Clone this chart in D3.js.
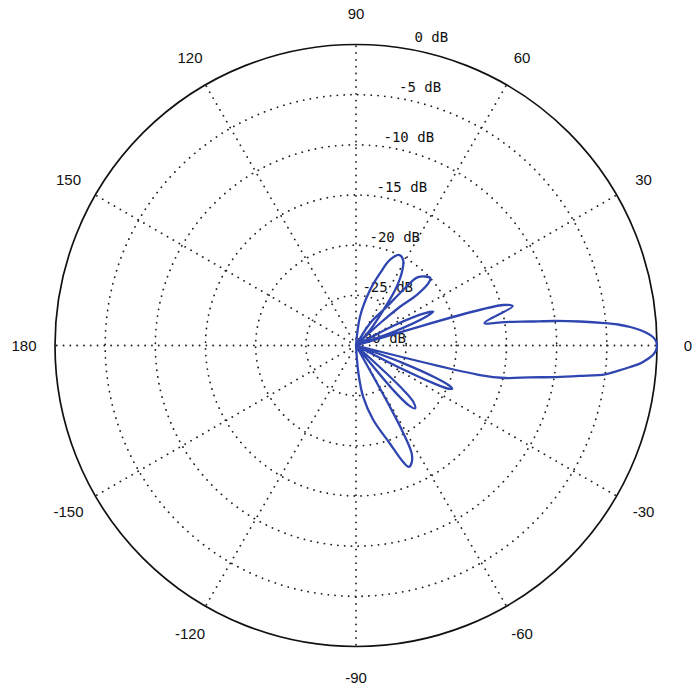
<!DOCTYPE html>
<html>
<head>
<meta charset="utf-8">
<script src="https://cdn.jsdelivr.net/npm/d3@7"></script>
<style>
  html, body { margin: 0; padding: 0; background: #ffffff; }
  svg { display: block; }
</style>
</head>
<body>
<div id="chart"></div>
<script>
// ---- data ----
const ringLevels = [-25, -20, -15, -10, -5];
const dbLevels = [0, -5, -10, -15, -20, -25, -30];
const dbLabels = ["0 dB", "-5 dB", "-10 dB", "-15 dB", "-20 dB", "-25 dB", "-30 dB"];
const spokeAngles = [0, 30, 60, 90, 120, 150, 180, 210, 240, 270, 300, 330];
const angleTicks = [0, 30, 60, 90, 120, 150, 180, -150, -120, -90, -60, -30];
const angleLabels = ["0", "30", "60", "90", "120", "150", "180", "-150", "-120", "-90", "-60", "-30"];

// pattern trace: angle (deg, CCW from 0) and gain (dB), in drawing order
const patternAngles = [
  -88, -85, -82, -77, -71, -68, -66.5, -64.5, -62.7, -61.5, -61, -60.5,
  -52, -50, -48.5, -46.8, -44.5, -43, -41,
  -28, -27, -26, -25, -24.2, -23.2, -22, -20.5, -19,
  -13.4, -13.4, -12.3, -10.4, -9.0, -7.75, -6.6, -5.56, -4.49, -3.59, -2.65, -1.83, -0.95, 0,
  0.86, 1.64, 2.35, 3.12, 3.86, 4.58, 5.16, 6.12, 7.02, 7.85, 8.96, 9.89,
  14.1, 15.4, 15.4,
  19, 20.3, 22.3, 23.6, 25, 27.7, 31,
  43, 42.8, 41.4, 39.8, 40.7, 42.2, 47.8, 49.6, 51.6, 57.8, 60,
  45, 47.9, 52.4, 54.9, 57.7, 61, 64.4, 68.3, 71.6, 75.8, 82.1, 88
];
const patternDb = [
  -30, -27.2, -24.8, -22.4, -19.7, -17.5, -16.8, -17.1, -17.9, -20.5, -23.5, -30,
  -30, -24, -22, -21.4, -22, -24, -30,
  -30, -25, -21.5, -19.8, -19.5, -19.9, -21.5, -25, -30,
  -30, -17.3, -14.8, -12.4, -9.9, -7.5, -5.0, -3.8, -2.6, -1.6, -0.9, -0.4, -0.1, 0,
  -0.1, -0.4, -0.9, -1.65, -2.6, -3.8, -5.1, -7.55, -10.0, -12.5, -15.0, -17.0,
  -13.9, -14.8, -30,
  -30, -25.5, -22.5, -21.6, -22.3, -25.6, -30,
  -30, -26.7, -24.2, -22.1, -20.5, -20, -20.8, -22.7, -25.1, -27.4, -30,
  -30, -27.9, -25.5, -23.2, -21.5, -20.3, -20, -20.8, -22.4, -24.3, -27.1, -30
];

// ---- layout ----
const W = 697, H = 700;
const cx = 356, cy = 345.5, R = 301;
const rad = d3.scaleLinear().domain([-30, 0]).range([0, R]).clamp(true);
const toRad = a => (90 - a) * Math.PI / 180; // math angle -> d3 radial angle

const svg = d3.select("#chart").append("svg")
  .attr("width", W).attr("height", H);
const g = svg.append("g").attr("transform", `translate(${cx},${cy})`);

const dotted = sel => sel.attr("fill", "none").attr("stroke", "#222")
  .attr("stroke-width", 1.8).attr("stroke-dasharray", "0.1 6.7")
  .attr("stroke-linecap", "round");

// spokes
g.selectAll("line.spoke").data(spokeAngles).join("line")
  .attr("class", "spoke")
  .attr("x1", 0).attr("y1", 0)
  .attr("x2", d => rad(0) * Math.cos(d * Math.PI / 180))
  .attr("y2", d => -rad(0) * Math.sin(d * Math.PI / 180))
  .call(dotted);

// dotted rings
g.selectAll("circle.ring").data(ringLevels).join("circle")
  .attr("class", "ring").attr("r", d => rad(d)).call(dotted);

// outer solid ring
g.append("circle").attr("r", rad(0)).attr("fill", "none")
  .attr("stroke", "#111").attr("stroke-width", 1.7);

// dB labels
g.selectAll("text.db").data(dbLevels).join("text")
  .attr("class", "db")
  .attr("x", d => 50 + 0.14 * rad(d))
  .attr("y", d => -rad(d) - 3)
  .attr("text-anchor", "end")
  .attr("font-family", "DejaVu Sans Mono, monospace")
  .attr("font-size", 14)
  .attr("fill", "#111")
  .text((d, i) => dbLabels[i]);

// angle labels
const labelR = rad(0) + 31;
g.selectAll("text.ang").data(angleTicks).join("text")
  .attr("class", "ang")
  .attr("x", d => labelR * Math.cos(d * Math.PI / 180))
  .attr("y", d => -labelR * Math.sin(d * Math.PI / 180))
  .attr("text-anchor", "middle")
  .attr("dominant-baseline", "central")
  .attr("font-family", "Liberation Sans, Arial, sans-serif")
  .attr("font-size", 15)
  .attr("fill", "#111")
  .text((d, i) => angleLabels[i]);

// pattern
const pts = patternAngles.map((a, i) => [toRad(a), rad(patternDb[i])]);
const line = d3.lineRadial().angle(d => d[0]).radius(d => d[1])
  .curve(d3.curveCatmullRom.alpha(0.5));
g.append("path").attr("d", line(pts))
  .attr("fill", "none").attr("stroke", "#2f45b0")
  .attr("stroke-width", 2.3).attr("stroke-linejoin", "round");
</script>
</body>
</html>
